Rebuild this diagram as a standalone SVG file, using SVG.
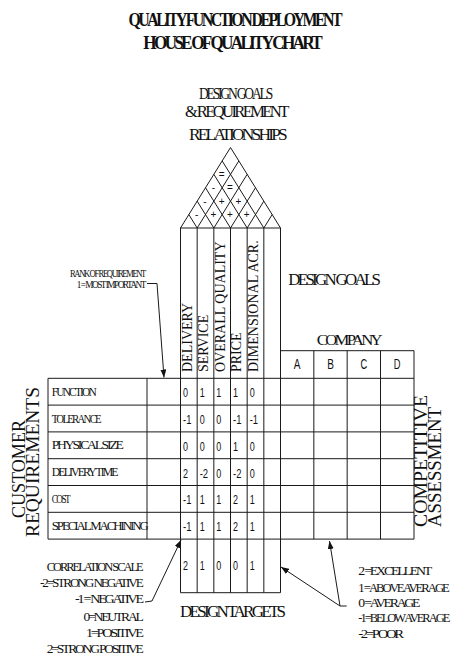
<svg xmlns="http://www.w3.org/2000/svg" width="453" height="655" viewBox="0 0 453 655">
<style>
.ln{stroke:#1a1a1a;stroke-width:1;fill:none}
.cmp{font-family:"Liberation Serif",serif;fill:#111;letter-spacing:-0.16em}
.b{font-weight:bold}
.hd{font-family:"Liberation Serif",serif;fill:#111}
.num{font-family:"Liberation Sans",sans-serif;font-size:13px;fill:#111}
.abc{font-family:"Liberation Sans",sans-serif;font-size:15.5px;fill:#111;text-anchor:middle}
.sym{font-family:"Liberation Sans",sans-serif;font-size:10px;fill:#111;text-anchor:middle}
</style>
<defs>
<marker id="ah" markerWidth="8" markerHeight="6" refX="8" refY="3" orient="auto" markerUnits="userSpaceOnUse"><path d="M0,0 L8,3 L0,6 z" fill="#111"/></marker>
</defs>
<rect width="453" height="655" fill="#fff"/>

<g id="title">
<text class="cmp b" x="128.5" y="26" font-size="19" textLength="211.5" lengthAdjust="spacingAndGlyphs">QUALITY FUNCTION DEPLOYMENT</text>
<text class="cmp b" x="143.3" y="49.3" font-size="19" textLength="176.7" lengthAdjust="spacingAndGlyphs">HOUSE OF QUALITY CHART</text>
</g>

<g id="roof">
<text class="cmp" x="199" y="98.5" font-size="16" textLength="72" lengthAdjust="spacingAndGlyphs">DESIGN GOALS</text>
<text class="cmp" x="185" y="117" font-size="16.5" textLength="101.7" lengthAdjust="spacingAndGlyphs">&amp; REQUIREMENT</text>
<text class="cmp" x="189" y="140" font-size="16.5" textLength="96" lengthAdjust="spacingAndGlyphs">RELATIONSHIPS</text>
<path class="ln" d="M180.5,228 L230.5,147.5 L280.5,228 Z"/>
<path class="ln" d="M197.17,228 L238.83,160.92 M197.17,228 L188.83,214.58
M213.83,228 L247.17,174.33 M213.83,228 L197.17,201.17
M230.5,228 L255.5,187.75 M230.5,228 L205.5,187.75
M247.17,228 L263.83,201.17 M247.17,228 L213.83,174.33
M263.83,228 L272.17,214.58 M263.83,228 L222.17,160.92"/>
<text class="sym" x="196.7" y="218">-</text>
<text class="sym" x="213.3" y="218">+</text>
<text class="sym" x="230" y="218">+</text>
<text class="sym" x="246.7" y="218">+</text>
<text class="sym" x="205" y="204.5">-</text>
<text class="sym" x="221.7" y="204.5">+</text>
<text class="sym" x="238.3" y="204.5">+</text>
<text class="sym" x="213.3" y="191">-</text>
<text class="sym" x="230" y="191">=</text>
<text class="sym" x="221.7" y="177.5">=</text>
</g>

<g id="design-goals">
<path class="ln" d="M180.5,228 V592.7 M197.17,228 V592.7 M213.83,228 V592.7 M230.5,228 V592.7 M247.17,228 V592.7 M263.83,228 V592.7 M280.5,228 V592.7"/>
<text class="hd" font-size="14" transform="translate(191.5,372) rotate(-90)">DELIVERY</text>
<text class="hd" font-size="14" transform="translate(208.2,372) rotate(-90)">SERVICE</text>
<text class="hd" font-size="14" transform="translate(224.5,372) rotate(-90)">OVERALL QUALITY</text>
<text class="hd" font-size="14" transform="translate(241,372) rotate(-90)">PRICE</text>
<text class="hd" font-size="14" transform="translate(257.5,372) rotate(-90)">DIMENSIONAL ACR.</text>
<text class="cmp" x="288.3" y="285" font-size="16.5" textLength="90" lengthAdjust="spacingAndGlyphs">DESIGN GOALS</text>
</g>

<g id="customer-requirements">
<text class="hd" font-size="18" transform="translate(25,518) rotate(-90)" textLength="98" lengthAdjust="spacingAndGlyphs">CUSTOMER</text>
<text class="hd" font-size="18" transform="translate(38.5,537) rotate(-90)" textLength="150" lengthAdjust="spacingAndGlyphs">REQUIREMENTS</text>
<path class="ln" d="M48,378.3 H414 M48,405.1 H414 M48,431.9 H414 M48,458.7 H414 M48,485.5 H414 M48,512.3 H414 M48,539.1 H414 M48,378.3 V539.1 M147,378.3 V539.1"/>
<text class="cmp" x="51.7" y="395.7" font-size="12" textLength="43.3" lengthAdjust="spacingAndGlyphs">FUNCTION</text>
<text class="cmp" x="51.7" y="422.5" font-size="12" textLength="48.3" lengthAdjust="spacingAndGlyphs">TOLERANCE</text>
<text class="cmp" x="51.7" y="449.3" font-size="12" textLength="70" lengthAdjust="spacingAndGlyphs">PHYSICAL SIZE</text>
<text class="cmp" x="51.7" y="476.1" font-size="12" textLength="65" lengthAdjust="spacingAndGlyphs">DELIVERY TIME</text>
<text class="cmp" x="51.7" y="502.9" font-size="12" textLength="17.5" lengthAdjust="spacingAndGlyphs">COST</text>
<text class="cmp" x="51.7" y="529.7" font-size="12" textLength="95" lengthAdjust="spacingAndGlyphs">SPECIAL MACHINING</text>
</g>

<g id="rank">
<text class="cmp" x="70" y="276.7" font-size="10" textLength="75" lengthAdjust="spacingAndGlyphs">RANK OF REQUIREMENT</text>
<text class="cmp" x="76.7" y="288" font-size="10" textLength="68.3" lengthAdjust="spacingAndGlyphs">1 = MOST IMPORTANT</text>
</g>

<g id="relationship-matrix">
<text class="num" x="183" y="397.2" textLength="5" lengthAdjust="spacingAndGlyphs">0</text>
<text class="num" x="199.7" y="397.2" textLength="5" lengthAdjust="spacingAndGlyphs">1</text>
<text class="num" x="216.3" y="397.2" textLength="5" lengthAdjust="spacingAndGlyphs">1</text>
<text class="num" x="233" y="397.2" textLength="5" lengthAdjust="spacingAndGlyphs">1</text>
<text class="num" x="249.7" y="397.2" textLength="5" lengthAdjust="spacingAndGlyphs">0</text>

<text class="num" x="183" y="424" textLength="8.4" lengthAdjust="spacingAndGlyphs">-1</text>
<text class="num" x="199.7" y="424" textLength="5" lengthAdjust="spacingAndGlyphs">0</text>
<text class="num" x="216.3" y="424" textLength="5" lengthAdjust="spacingAndGlyphs">0</text>
<text class="num" x="233" y="424" textLength="8.4" lengthAdjust="spacingAndGlyphs">-1</text>
<text class="num" x="249.7" y="424" textLength="8.4" lengthAdjust="spacingAndGlyphs">-1</text>

<text class="num" x="183" y="450.8" textLength="5" lengthAdjust="spacingAndGlyphs">0</text>
<text class="num" x="199.7" y="450.8" textLength="5" lengthAdjust="spacingAndGlyphs">0</text>
<text class="num" x="216.3" y="450.8" textLength="5" lengthAdjust="spacingAndGlyphs">0</text>
<text class="num" x="233" y="450.8" textLength="5" lengthAdjust="spacingAndGlyphs">1</text>
<text class="num" x="249.7" y="450.8" textLength="5" lengthAdjust="spacingAndGlyphs">0</text>

<text class="num" x="183" y="477.6" textLength="5" lengthAdjust="spacingAndGlyphs">2</text>
<text class="num" x="199.7" y="477.6" textLength="8.4" lengthAdjust="spacingAndGlyphs">-2</text>
<text class="num" x="216.3" y="477.6" textLength="5" lengthAdjust="spacingAndGlyphs">0</text>
<text class="num" x="233" y="477.6" textLength="8.4" lengthAdjust="spacingAndGlyphs">-2</text>
<text class="num" x="249.7" y="477.6" textLength="5" lengthAdjust="spacingAndGlyphs">0</text>

<text class="num" x="183" y="504.4" textLength="8.4" lengthAdjust="spacingAndGlyphs">-1</text>
<text class="num" x="199.7" y="504.4" textLength="5" lengthAdjust="spacingAndGlyphs">1</text>
<text class="num" x="216.3" y="504.4" textLength="5" lengthAdjust="spacingAndGlyphs">1</text>
<text class="num" x="233" y="504.4" textLength="5" lengthAdjust="spacingAndGlyphs">2</text>
<text class="num" x="249.7" y="504.4" textLength="5" lengthAdjust="spacingAndGlyphs">1</text>

<text class="num" x="183" y="531.2" textLength="8.4" lengthAdjust="spacingAndGlyphs">-1</text>
<text class="num" x="199.7" y="531.2" textLength="5" lengthAdjust="spacingAndGlyphs">1</text>
<text class="num" x="216.3" y="531.2" textLength="5" lengthAdjust="spacingAndGlyphs">1</text>
<text class="num" x="233" y="531.2" textLength="5" lengthAdjust="spacingAndGlyphs">2</text>
<text class="num" x="249.7" y="531.2" textLength="5" lengthAdjust="spacingAndGlyphs">1</text>
</g>

<g id="company">
<text class="cmp" x="316.7" y="345" font-size="15" textLength="63.3" lengthAdjust="spacingAndGlyphs">COMPANY</text>
<path class="ln" d="M280.5,350.7 H414 M313.83,350.7 V539.1 M347.17,350.7 V539.1 M380.5,350.7 V539.1 M414,350.7 V539.1"/>
<text class="abc" x="297.2" y="369.3" textLength="6.7" lengthAdjust="spacingAndGlyphs">A</text>
<text class="abc" x="330.5" y="369.3" textLength="6.7" lengthAdjust="spacingAndGlyphs">B</text>
<text class="abc" x="363.8" y="369.3" textLength="6.7" lengthAdjust="spacingAndGlyphs">C</text>
<text class="abc" x="397.2" y="369.3" textLength="6.7" lengthAdjust="spacingAndGlyphs">D</text>
<text class="hd" font-size="18.5" transform="translate(427,527) rotate(-90)" textLength="132" lengthAdjust="spacingAndGlyphs">COMPETITIVE</text>
<text class="hd" font-size="18.5" transform="translate(441,527) rotate(-90)" textLength="120" lengthAdjust="spacingAndGlyphs">ASSESSMENT</text>
</g>

<g id="design-targets">
<path class="ln" d="M180.5,592.7 H280.5"/>
<text class="num" x="183" y="570" textLength="5" lengthAdjust="spacingAndGlyphs">2</text>
<text class="num" x="199.7" y="570" textLength="5" lengthAdjust="spacingAndGlyphs">1</text>
<text class="num" x="216.3" y="570" textLength="5" lengthAdjust="spacingAndGlyphs">0</text>
<text class="num" x="233" y="570" textLength="5" lengthAdjust="spacingAndGlyphs">0</text>
<text class="num" x="249.7" y="570" textLength="5" lengthAdjust="spacingAndGlyphs">1</text>
<text class="cmp" x="180" y="616.7" font-size="17" textLength="103.3" lengthAdjust="spacingAndGlyphs">DESIGN TARGETS</text>
</g>

<g id="legend-correlation">
<text class="cmp" x="46.7" y="571" font-size="12" textLength="95" lengthAdjust="spacingAndGlyphs">CORRELATION SCALE</text>
<text class="cmp" x="40" y="587" font-size="12" textLength="101.7" lengthAdjust="spacingAndGlyphs">-2=STRONG NEGATIVE</text>
<text class="cmp" x="75" y="603" font-size="12" textLength="66.7" lengthAdjust="spacingAndGlyphs">-1 = NEGATIVE</text>
<text class="cmp" x="83.4" y="621" font-size="12" textLength="58.3" lengthAdjust="spacingAndGlyphs">0=NEUTRAL</text>
<text class="cmp" x="86" y="637" font-size="12" textLength="55.7" lengthAdjust="spacingAndGlyphs">1=POSITIVE</text>
<text class="cmp" x="46.7" y="652.5" font-size="12" textLength="95" lengthAdjust="spacingAndGlyphs">2=STRONG POSITIVE</text>
</g>

<g id="legend-assessment">
<text class="cmp" x="358.3" y="575" font-size="12.5" textLength="71.7" lengthAdjust="spacingAndGlyphs">2 =EXCELLENT</text>
<text class="cmp" x="358.3" y="591.5" font-size="12.5" textLength="89.5" lengthAdjust="spacingAndGlyphs">1 =ABOVE AVERAGE</text>
<text class="cmp" x="358.3" y="607" font-size="12.5" textLength="60" lengthAdjust="spacingAndGlyphs">0 =AVERAGE</text>
<text class="cmp" x="358.3" y="621.5" font-size="12.5" textLength="90" lengthAdjust="spacingAndGlyphs">-1=BELOW AVERAGE</text>
<text class="cmp" x="358.3" y="638" font-size="12.5" textLength="43.4" lengthAdjust="spacingAndGlyphs">-2=POOR</text>
</g>

<g id="connectors">
<polyline class="ln" points="147,283.5 157,283.5 164,377.5" marker-end="url(#ah)"/>
<polyline class="ln" points="145,602 152,601 181,540" marker-end="url(#ah)"/>
<polyline class="ln" points="346.7,606 340,606 281,567" marker-end="url(#ah)"/>
<polyline class="ln" points="340,606 329.5,541" marker-end="url(#ah)"/>
</g>
</svg>
